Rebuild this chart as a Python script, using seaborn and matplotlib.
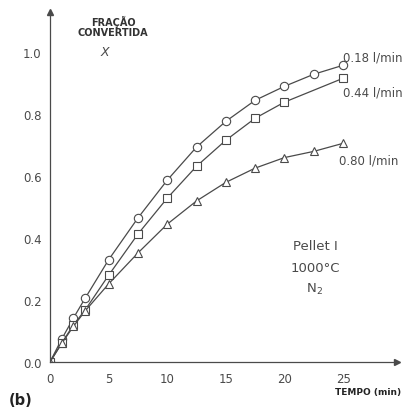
import matplotlib
matplotlib.use("Agg")
import matplotlib.pyplot as plt
import seaborn as sns
import pandas as pd

# Conversion curves of pellet I at 1000 °C under N2, for three gas flow rates
time_circle = [0, 1, 2, 3, 5, 7.5, 10, 12.5, 15, 17.5, 20, 22.5, 25]
conv_circle = [0.0, 0.074, 0.142, 0.206, 0.33, 0.465, 0.587, 0.694, 0.777, 0.845, 0.89, 0.929, 0.958]

time_square = [0, 1, 2, 3, 5, 7.5, 10, 12.5, 15, 17.5, 20, 25]
conv_square = [0.0, 0.061, 0.12, 0.168, 0.28, 0.413, 0.529, 0.632, 0.716, 0.787, 0.839, 0.916]

time_triangle = [0, 1, 2, 3, 5, 7.5, 10, 12.5, 15, 17.5, 20, 22.5, 25]
conv_triangle = [0.0, 0.06, 0.115, 0.165, 0.252, 0.352, 0.445, 0.52, 0.58, 0.626, 0.66, 0.68, 0.706]

flow_labels = ["0.18 l/min", "0.44 l/min", "0.80 l/min"]
x_ticks = [0, 5, 10, 15, 20, 25]
y_ticks = [0.0, 0.2, 0.4, 0.6, 0.8, 1.0]

df = pd.concat([
    pd.DataFrame({"t": time_circle, "X": conv_circle, "flow": flow_labels[0]}),
    pd.DataFrame({"t": time_square, "X": conv_square, "flow": flow_labels[1]}),
    pd.DataFrame({"t": time_triangle, "X": conv_triangle, "flow": flow_labels[2]}),
])

sns.set_style("white")
plt.rcParams["font.family"] = ["DejaVu Sans"]

ink = "#4a4a4a"
fig = plt.figure(figsize=(4.09, 4.14), dpi=100)
ax = fig.add_axes([50 / 409, 1 - 363 / 414, 347 / 409, 350 / 414])

sns.lineplot(
    data=df, x="t", y="X", hue="flow", style="flow",
    palette=[ink, ink, ink],
    markers={flow_labels[0]: "o", flow_labels[1]: "s", flow_labels[2]: "^"},
    dashes=False, markersize=6, markerfacecolor="white",
    markeredgecolor=ink, markeredgewidth=0.8, linewidth=0.9,
    legend=False, ax=ax,
)

ax.set_xlim(0, 29.6)
ax.set_ylim(0, 1.13)
ax.set_xticks(x_ticks)
ax.set_xticklabels([str(v) for v in x_ticks])
ax.set_yticks(y_ticks)
ax.set_yticklabels([f"{v:.1f}" for v in y_ticks])
ax.set_xlabel("")
ax.set_ylabel("")
for side in ("top", "right"):
    ax.spines[side].set_visible(False)
for side in ("left", "bottom"):
    ax.spines[side].set_color(ink)
    ax.spines[side].set_linewidth(0.9)
ax.tick_params(axis="x", direction="in", length=4, width=0.8, colors=ink,
               labelsize=8.5, pad=7)
ax.tick_params(axis="y", direction="out", length=4, width=0.8, colors=ink,
               labelsize=8.5, pad=2)

# axis arrow heads
ax.plot(1, 0, ">", transform=ax.transAxes, color=ink, markersize=5, clip_on=False)
ax.plot(0, 1, "^", transform=ax.transAxes, color=ink, markersize=5, clip_on=False)

# annotations
ax.text(5.4, 1.085, "FRAÇÃO\nCONVERTIDA", ha="center", va="center",
        fontsize=7, fontweight="semibold", color="#333333", linespacing=1.05)
ax.text(4.7, 1.003, "X", ha="center", va="center", fontsize=9,
        style="italic", color=ink)
ax.text(27.5, 0.985, flow_labels[0], ha="center", va="center", fontsize=8.5, color=ink)
ax.text(27.5, 0.873, flow_labels[1], ha="center", va="center", fontsize=8.5, color=ink)
ax.text(27.2, 0.651, flow_labels[2], ha="center", va="center", fontsize=8.5, color=ink)
ax.text(22.6, 0.375, "Pellet I", ha="center", va="center", fontsize=9.5, color=ink)
ax.text(22.6, 0.306, "1000°C", ha="center", va="center", fontsize=9.5, color=ink)
ax.text(22.6, 0.236, "N$_2$", ha="center", va="center", fontsize=9.5, color=ink)
ax.text(27.1, -0.095, "TEMPO (min)", ha="center", va="center", fontsize=6.5,
        fontweight="semibold", color="#222222")
fig.text(21 / 409, 1 - 401 / 414, "(b)", ha="center", va="center",
         fontsize=10.5, fontweight="bold", color="#222222")

fig.savefig("out.png", dpi=100, facecolor="white")
